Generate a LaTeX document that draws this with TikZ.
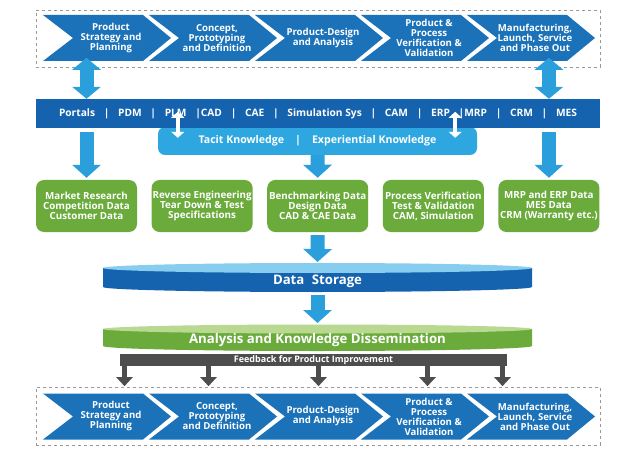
\documentclass[tikz,border=0pt]{standalone}
\usepackage{fontspec}
\setmainfont{Open Sans}
\usepackage{tikz}
\usetikzlibrary{arrows.meta, positioning, calc}
\definecolor{chevron}{HTML}{1B72B9}
\definecolor{bandblue}{HTML}{1563AE}
\definecolor{sky}{HTML}{2A9FDB}
\definecolor{skylight}{HTML}{86CDF0}
\definecolor{tacitblue}{HTML}{2EA7E0}
\definecolor{leaf}{HTML}{6AAB3C}
\definecolor{leaflight}{HTML}{B8D98F}
\definecolor{slate}{HTML}{4D4D4D}
\tikzstyle{chev}     = [fill=chevron]
\tikzstyle{chevtext} = [text=white, align=center, inner sep=0pt,
                        font=\fontsize{9.6}{10}\selectfont\bfseries]
\tikzstyle{dashbox}  = [draw=gray!80, dashed, line width=0.8pt, rectangle,
                        inner sep=0pt, anchor=north west]
\tikzstyle{databox}  = [rectangle, rounded corners=8pt, fill=leaf, text=white,
                        minimum width=101pt, minimum height=52pt, align=center,
                        inner sep=0pt, font=\fontsize{9.8}{10}\selectfont\bfseries]
\tikzstyle{disktext} = [text=white, font=\fontsize{13.2}{15}\selectfont\bfseries]
\tikzstyle{fatarrow} = [draw=sky, line width=14pt, -{Triangle[length=13pt, width=28pt]}]
\tikzstyle{dblarrow} = [draw=sky, line width=14pt,
                        {Triangle[length=12pt, width=28pt]}-{Triangle[length=12pt, width=28pt]}]
\tikzstyle{whitearrow} = [draw=white, line width=4.5pt,
                        {Triangle[length=6pt, width=13pt]}-{Triangle[length=6pt, width=13pt]}]
\tikzstyle{feedarrow} = [draw=slate, line width=5pt, -{Triangle[length=9pt, width=16pt]}]
\newcommand{\bandsep}{\hfill|\hfill}

\begin{document}
\begin{tikzpicture}[x=1pt, y=-1pt]
  \useasboundingbox (0,0) rectangle (620,454);

  %% process rows (top and bottom)
  \node[dashbox, minimum width=564pt, minimum height=57pt] (topbox) at (36,10) {};
  \node[dashbox, minimum width=564pt, minimum height=58pt] (botbox) at (36,387) {};
  \foreach \y/\row in {15/top, 393.5/bot} {
    \foreach \x/\txt [count=\i] in {43/{Product\\Strategy and\\Planning},
        149/{Concept,\\Prototyping\\and Definition},
        255/{Product-Design\\and Analysis},
        361/{Product \&\\Process\\Verification \&\\Validation},
        467/{Manufacturing,\\Launch, Service\\and Phase Out}} {
      \fill[chev] (\x,\y) -- ++(100,0) -- ++(28,23) -- ++(-28,23) -- ++(-100,0)
        -- ++(30,-23) -- cycle;
      \node[chevtext] (\row\i) at (\x+68,\y+23) {\txt};
    }
  }

  %% tools band
  \node[rectangle, rounded corners=7pt, fill=tacitblue, text=white,
        minimum width=319pt, minimum height=28pt, inner sep=0pt,
        font=\fontsize{10.6}{12}\selectfont\bfseries] (tacit) at (317.5,141)
        {Tacit Knowledge\hspace{11pt}|\hspace{11pt}Experiential Knowledge};
  \node[rectangle, fill=bandblue, text=white, minimum width=564pt,
        minimum height=29pt, inner sep=0pt,
        font=\fontsize{10.2}{12}\selectfont\bfseries] (band) at (318,113.5)
        {\makebox[518pt]{Portals\bandsep PDM\bandsep PLM\hfill|CAD\bandsep CAE\bandsep
         Simulation Sys\bandsep CAM\bandsep ERP\hfill|MRP\bandsep CRM\bandsep MES}};
  \draw[whitearrow] ([xshift=20pt, yshift=15pt]tacit.north west)
    -- ([xshift=20pt, yshift=-11pt]tacit.north west);
  \draw[whitearrow] ([xshift=-22pt, yshift=15pt]tacit.north east)
    -- ([xshift=-22pt, yshift=-11pt]tacit.north east);

  %% data sources
  \foreach \txt [count=\i] in {{Market Research\\Competition Data\\Customer Data},
      {Reverse Engineering\\Tear Down \& Test\\Specifications},
      {Benchmarking Data\\Design Data\\CAD \& CAE Data},
      {Process Verification\\Test \& Validation\\CAM, Simulation},
      {MRP and ERP Data\\MES Data\\CRM (Warranty etc.)}} {
    \node[databox] (m\i) at ({86.5+115.6*(\i-1)},206) {\txt};
  }

  %% arrows around the band
  \draw[dblarrow, shorten <=-10pt] (topbox.south -| m1) -- (band.north -| m1);
  \draw[dblarrow, shorten <=-10pt] (topbox.south -| m5) -- (band.north -| m5);
  \draw[fatarrow, shorten <=4pt, shorten >=2pt] (band.south -| m1) -- (m1.north);
  \draw[fatarrow, shorten <=4pt, shorten >=2pt] (band.south -| m5) -- (m5.north);
  \draw[fatarrow, shorten >=2pt] (tacit.south) -- (m3.north);

  %% data storage disk
  \fill[bandblue] (103,268) -- (103,287)
    arc[start angle=180, end angle=360, x radius=214.5pt, y radius=5pt]
    -- (532,268) -- cycle;
  \fill[skylight] (317.5,268) ellipse [x radius=214.5pt, y radius=5pt];
  \node[disktext] (store) at (317.5,281) {Data\hspace{4pt} Storage};
  \coordinate (storetop) at (317.5,262);
  \coordinate (storebot) at (317.5,295);

  %% analysis disk
  \fill[leaf] (103,329) -- (103,346)
    arc[start angle=180, end angle=360, x radius=214.5pt, y radius=5pt]
    -- (532,329) -- cycle;
  \fill[leaflight] (317.5,329) ellipse [x radius=214.5pt, y radius=4.5pt];
  \node[disktext] (dissem) at (317.5,340) {Analysis and Knowledge Dissemination};
  \coordinate (dissemtop) at (317.5,323);

  \draw[fatarrow, shorten <=3pt] (m3.south) -- (storetop);
  \draw[fatarrow] (storebot) -- (dissemtop);

  %% feedback
  \node[rectangle, fill=slate, text=white, minimum width=387pt, minimum height=12pt,
        inner sep=0pt, font=\fontsize{9}{10}\selectfont\bfseries] (fb) at (313.5,360)
        {Feedback for Product Improvement};
  \foreach \d in {-189,-105,5,114,189}
    \draw[feedarrow] ([xshift=\d pt]fb.south) -- ++(0,20);

\end{tikzpicture}
\end{document}
